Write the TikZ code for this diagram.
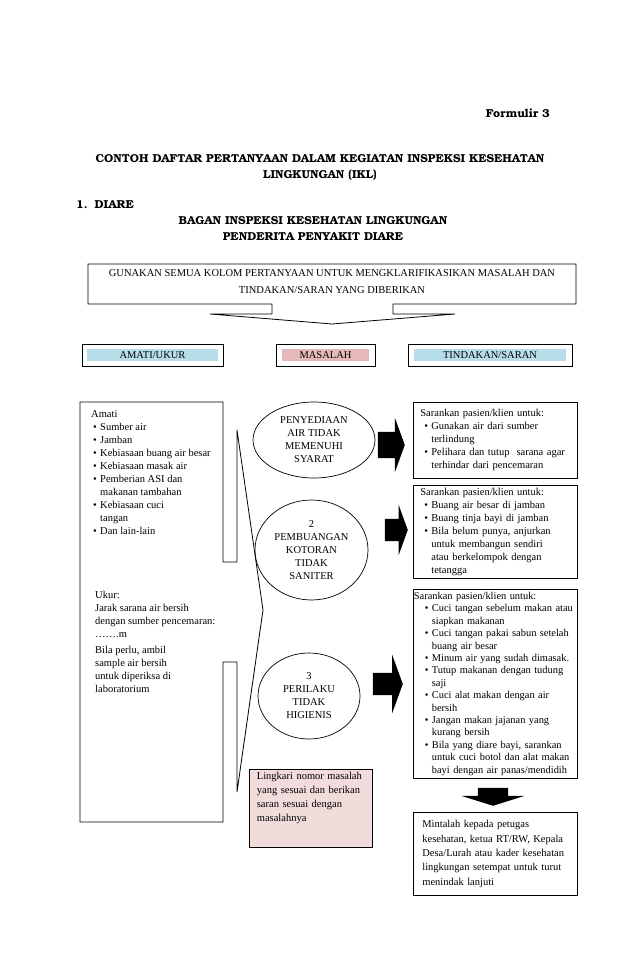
\documentclass[tikz,border=0pt]{standalone}
\usepackage{fontspec}
\setmainfont{Liberation Serif}
\newfontfamily\slabfont{texgyrebonum}[Extension=.otf, UprightFont=*-regular, BoldFont=*-bold]
\usepackage{tikz}
\usetikzlibrary{shapes.geometric, shapes.arrows}
\definecolor{hdrB}{RGB}{183,221,232}
\definecolor{hdrR}{RGB}{230,185,184}
\definecolor{noteR}{RGB}{242,220,219}
\newcommand{\bodyfont}{\fontsize{10.5}{13}\selectfont}
\newcommand{\ttlfont}{\slabfont\bfseries\fontsize{11.5}{16}\selectfont}
\newcommand{\bpt}{\makebox[7pt][l]{\textbullet}}
\newcommand{\bcont}{\hspace*{7pt}}
\tikzset{
  boxline/.style={draw, line width=0.8pt, line join=miter},
  sbox/.style={boxline, anchor=north west, align=left, font=\bodyfont, inner xsep=7pt, inner ysep=2pt},
  hdr/.style={boxline, minimum height=22pt},
  hdrin/.style={minimum height=12pt, inner sep=0pt, font=\bodyfont},
  prob/.style={ellipse, draw, line width=0.7pt, align=center, font=\bodyfont, inner sep=0pt},
  blk/.style={single arrow, fill=black, inner xsep=0pt, anchor=tip, single arrow tip angle=140},
  ttl/.style={font=\ttlfont, inner sep=0pt},
  plain/.style={anchor=north west, align=left, font=\bodyfont, inner sep=0pt}
}

\begin{document}
\begin{tikzpicture}[x=1pt, y=-1pt]
\useasboundingbox (0,0) rectangle (638,976);
% headings
\node[ttl, anchor=base east] (form) at (550,118) {Formulir 3};
\node[ttl, anchor=north, align=center] (judul) at (320,154.5) {CONTOH DAFTAR PERTANYAAN DALAM KEGIATAN INSPEKSI KESEHATAN\\LINGKUNGAN (IKL)};
\node[ttl, anchor=base west] (diare) at (76,209) {1.\hspace{7pt}DIARE};
\node[ttl, anchor=north, align=center] (bagan) at (313,216) {BAGAN INSPEKSI KESEHATAN LINGKUNGAN\\PENDERITA PENYAKIT DIARE};

% top callout box
\draw[boxline] (88,264) -- (576,264) -- (576,304) -- (393,304) -- (393,314) -- (455,314) -- (332,324)
  -- (210,314) -- (272,314) -- (272,304) -- (88,304) -- cycle;
\node[font=\fontsize{10.5}{17}\selectfont, align=center, inner sep=0pt] (gunakan) at (332,282) {GUNAKAN SEMUA KOLOM PERTANYAAN UNTUK MENGKLARIFIKASIKAN MASALAH DAN\\TINDAKAN/SARAN YANG DIBERIKAN};

% column headers
\node[hdr, minimum width=141pt] (hAmati) at (152.5,355) {};
\node[hdrin, fill=hdrB, minimum width=131pt] (hAmatiT) at (hAmati) {AMATI/UKUR};
\node[hdr, minimum width=99pt] (hMasalah) at (325.5,355) {};
\node[hdrin, fill=hdrR, minimum width=87pt] (hMasalahT) at (hMasalah) {MASALAH};
\node[hdr, minimum width=164pt] (hTindakan) at (490,355) {};
\node[hdrin, fill=hdrB, minimum width=152pt] (hTindakanT) at (hTindakan) {TINDAKAN/SARAN};

% left column: callout box pointing at the problems
\draw[boxline] (80,402) -- (223,402) -- (223,562) -- (237,562) -- (237,430) -- (263,610) -- (237,792)
  -- (237,662) -- (223,662) -- (223,822) -- (80,822) -- cycle;
\node[plain] (amati) at (91,410) {Amati\\
  \hspace*{2pt}\bpt Sumber air\\
  \hspace*{2pt}\bpt Jamban\\
  \hspace*{2pt}\bpt Kebiasaan buang air besar\\
  \hspace*{2pt}\bpt Kebiasaan masak air\\
  \hspace*{2pt}\bpt Pemberian ASI dan\\
  \hspace*{2pt}\bcont makanan tambahan\\
  \hspace*{2pt}\bpt Kebiasaan cuci\\
  \hspace*{2pt}\bcont tangan\\
  \hspace*{2pt}\bpt Dan lain-lain};
\node[plain] (ukur) at (95,591) {Ukur:\\
  Jarak sarana air bersih\\
  dengan sumber pencemaran:\\
  …….m\\[3pt]
  Bila perlu, ambil\\
  sample air bersih\\
  untuk diperiksa di\\
  laboratorium};

% middle column: problems
\node[prob, minimum width=122pt, minimum height=76pt] (p1) at (314,440) {PENYEDIAAN\\AIR TIDAK\\MEMENUHI\\SYARAT};
\node[prob, minimum width=113pt, minimum height=100pt] (p2) at (311.5,550) {2\\PEMBUANGAN\\KOTORAN\\TIDAK\\SANITER};
\node[prob, minimum width=102pt, minimum height=86pt] (p3) at (309,696) {3\\PERILAKU\\TIDAK\\HIGIENIS};
\node[sbox, fill=noteR, text width=108pt, inner xsep=7.5pt, inner ysep=3pt, font=\fontsize{10.5}{14}\selectfont] (catatan) at (249,769) {Lingkari nomor masalah\\yang sesuai dan berikan\\saran sesuai dengan\\masalahnya\\[9pt]\mbox{}};

% block arrows
\node[blk, minimum height=27pt, inner ysep=13pt, single arrow head extend=14pt] (a1) at (405,445) {};
\node[blk, minimum height=23pt, inner ysep=11pt, single arrow head extend=14pt] (a2) at (408,530) {};
\node[blk, minimum height=30pt, inner ysep=11pt, single arrow head extend=18pt] (a3) at (403,684) {};
\node[blk, shape border rotate=270, minimum height=18pt, inner xsep=15pt, inner ysep=0pt, single arrow head extend=16.5pt, single arrow tip angle=145] (a4) at (493,806) {};

% right column: advice
\node[sbox, text width=150pt, minimum height=76pt] (r1) at (413,402) {Sarankan pasien/klien untuk:\\
  \hspace*{4pt}\bpt Gunakan air dari sumber\\
  \hspace*{4pt}\bcont terlindung\\
  \hspace*{4pt}\bpt Pelihara dan tutup \ sarana agar\\
  \hspace*{4pt}\bcont terhindar dari pencemaran};
\node[sbox, text width=150pt, minimum height=93pt] (r2) at (413,485) {Sarankan pasien/klien untuk:\\
  \hspace*{4pt}\bpt Buang air besar di jamban\\
  \hspace*{4pt}\bpt Buang tinja bayi di jamban\\
  \hspace*{4pt}\bpt Bila belum punya, anjurkan\\
  \hspace*{4pt}\bcont untuk membangun sendiri\\
  \hspace*{4pt}\bcont atau berkelompok dengan\\
  \hspace*{4pt}\bcont tetangga};
\node[sbox, text width=163pt, inner xsep=0.5pt, minimum height=189pt, font=\fontsize{10.4}{12.4}\selectfont] (r3) at (413,589) {Sarankan pasien/klien untuk:\\
  \hspace*{11pt}\bpt Cuci tangan sebelum makan atau\\
  \hspace*{11pt}\bcont siapkan makanan\\
  \hspace*{11pt}\bpt Cuci tangan pakai sabun setelah\\
  \hspace*{11pt}\bcont buang air besar\\
  \hspace*{11pt}\bpt Minum air yang sudah dimasak.\\
  \hspace*{11pt}\bpt Tutup makanan dengan tudung\\
  \hspace*{11pt}\bcont saji\\
  \hspace*{11pt}\bpt Cuci alat makan dengan air\\
  \hspace*{11pt}\bcont bersih\\
  \hspace*{11pt}\bpt Jangan makan jajanan yang\\
  \hspace*{11pt}\bcont kurang bersih\\
  \hspace*{11pt}\bpt Bila yang diare bayi, sarankan\\
  \hspace*{11pt}\bcont untuk cuci botol dan alat makan\\
  \hspace*{11pt}\bcont bayi dengan air panas/mendidih};
\node[sbox, text width=146pt, inner xsep=9pt, minimum height=83pt, font=\fontsize{10.5}{14.3}\selectfont] (r4) at (413,812) {Mintalah kepada petugas\\
  kesehatan, ketua RT/RW, Kepala\\
  Desa/Lurah atau kader kesehatan\\
  lingkungan setempat untuk turut\\
  menindak lanjuti};
\end{tikzpicture}
\end{document}
